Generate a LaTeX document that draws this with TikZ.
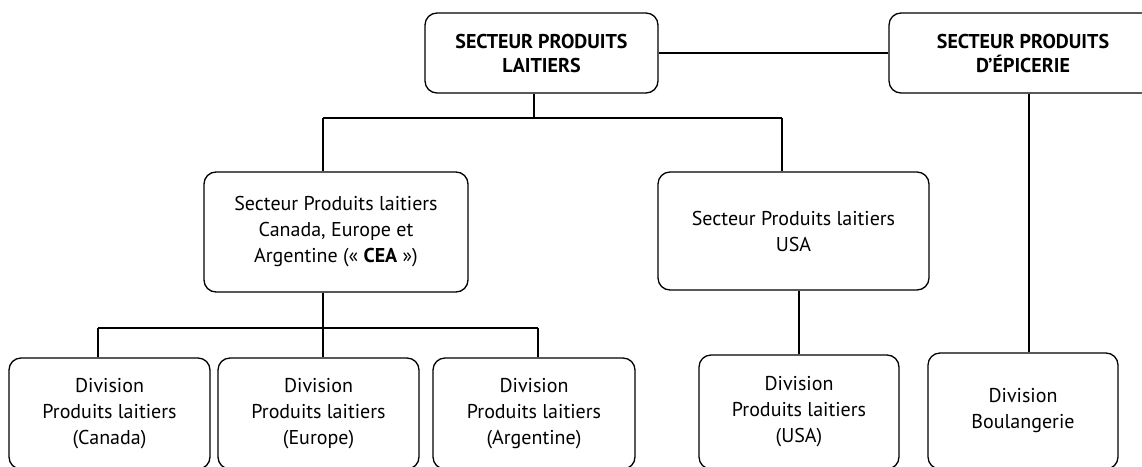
\documentclass[tikz,border=0pt]{standalone}
\usepackage{fontspec}
\setmainfont{PT Sans}
\begin{document}
\begin{tikzpicture}[x=1pt, y=-1pt, line width=1.3pt,
	unit/.style={draw, rounded corners=12pt, align=center, inner sep=0pt,
		font=\fontsize{20}{26}\selectfont},
	head/.style={unit, font=\fontsize{20}{24}\selectfont\bfseries}]

\useasboundingbox (0,0) rectangle (1142,466);
\clip (0,0) rectangle (1142,466);

\node[head, minimum width=233pt, minimum height=80pt] (laitiers) at (541.5,53) {SECTEUR PRODUITS\\LAITIERS};
\node[head, minimum width=268pt, minimum height=80pt] (epicerie) at (1023,53) {SECTEUR PRODUITS\\D’ÉPICERIE};

\node[unit, minimum width=264pt, minimum height=120pt] (cea) at (336,232) {Secteur Produits laitiers\\Canada, Europe et\\Argentine («~\textbf{CEA}~»)};
\node[unit, minimum width=271pt, minimum height=118pt] (usa) at (793.5,231) {Secteur Produits laitiers\\USA};

\node[unit, minimum width=201pt, minimum height=111pt] (canada) at (109.5,413.5) {Division\\Produits laitiers\\(Canada)};
\node[unit, minimum width=201pt, minimum height=111pt] (europe) at (318.5,413.5) {Division\\Produits laitiers\\(Europe)};
\node[unit, minimum width=202pt, minimum height=111pt] (argentine) at (534,413.5) {Division\\Produits laitiers\\(Argentine)};
\node[unit, minimum width=200pt, minimum height=114pt] (divusa) at (799,412) {Division\\Produits laitiers\\(USA)};
\node[unit, minimum width=190pt, minimum height=116pt] (boul) at (1023,411) {Division\\Boulangerie};

\coordinate (bus1) at (534,118);
\coordinate (bus1w) at (323,118);
\coordinate (bus1e) at (782,118);
\coordinate (bus2) at (323,328);
\coordinate (bus2w) at (98,328);
\coordinate (bus2e) at (538,328);
\coordinate (drop) at (1029,0);

\draw (laitiers) -- (epicerie);
\draw (bus1 |- laitiers.south) -- (bus1);
\draw (bus1w) -- (bus1e);
\draw (bus1w) -- (bus1w |- cea.north);
\draw (bus1e) -- (bus1e |- usa.north);

\draw (bus2 |- cea.south) -- (bus2);
\draw (bus2w) -- (bus2e);
\draw (bus2w) -- (bus2w |- canada.north);
\draw (bus2) -- (bus2 |- europe.north);
\draw (bus2e) -- (bus2e |- argentine.north);

\draw (divusa.north |- usa.south) -- (divusa.north);
\draw (drop |- epicerie.south) -- (drop |- boul.north);
\end{tikzpicture}
\end{document}
